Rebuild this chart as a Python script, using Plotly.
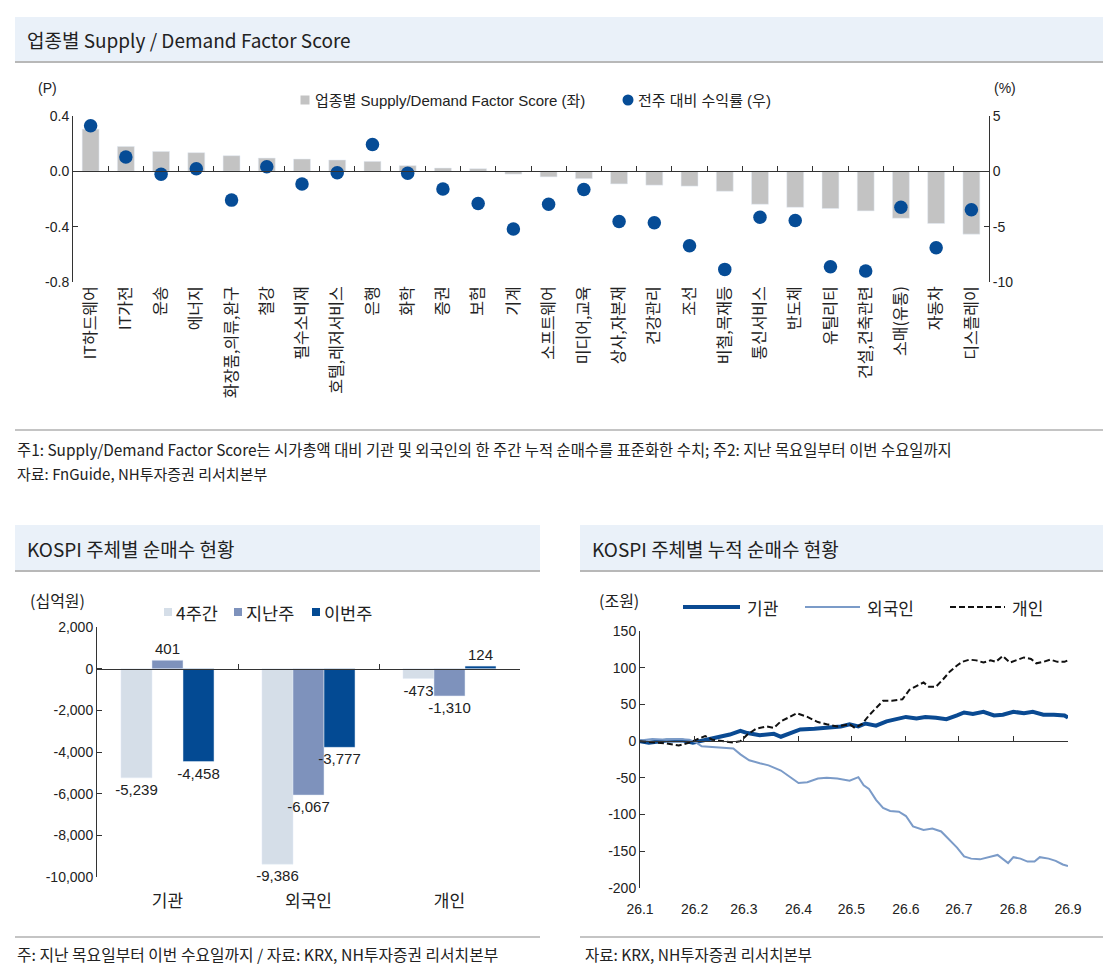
import plotly.graph_objects as go

# page body keeps an 8px margin, so the figure is the window minus 2x8px
PAGE_W, PAGE_H, PAD = 1118, 974, 8
W, H = PAGE_W - 2 * PAD, PAGE_H - 2 * PAD

# ---- top chart data: 업종별 Supply / Demand Factor Score
sectors = ['IT하드웨어', 'IT가전', '운송', '에너지', '화장품,의류,완구', '철강', '필수소비재',
           '호텔,레저서비스', '은행', '화학', '증권', '보험', '기계', '소프트웨어', '미디어,교육',
           '상사,자본재', '건강관리', '조선', '비철,목재등', '통신서비스', '반도체', '유틸리티',
           '건설,건축관련', '소매(유통)', '자동차', '디스플레이']
score = [0.305, 0.18, 0.144, 0.135, 0.113, 0.096, 0.089, 0.082, 0.072, 0.041, 0.024, 0.019, -0.02,
         -0.04, -0.053, -0.091, -0.10, -0.107, -0.144, -0.238, -0.26, -0.269, -0.286, -0.339, -0.377, -0.454]
weekly_ret = [4.12, 1.3, -0.27, 0.24, -2.6, 0.42, -1.14, -0.12, 2.43, -0.18, -1.59, -2.91, -5.22,
              -2.97, -1.65, -4.53, -4.65, -6.72, -8.86, -4.14, -4.44, -8.62, -9.0, -3.24, -6.9, -3.48]
score_ticks = [0.4, 0.0, -0.4, -0.8]
ret_ticks = [5, 0, -5, -10]

# ---- middle chart data: KOSPI 주체별 순매수 현황 (십억원)
investors = ['기관', '외국인', '개인']
net_4w = [-5239, -9386, -473]
net_last = [401, -6067, -1310]
net_this = [-4458, -3777, 124]
net_ticks = [2000, 0, -2000, -4000, -6000, -8000, -10000]

# ---- right chart data: KOSPI 주체별 누적 순매수 현황 (조원)
inst_dates = ['2026-01-01', '2026-01-06', '2026-01-16', '2026-01-25', '2026-01-31', '2026-02-04',
              '2026-02-10', '2026-02-15', '2026-02-21', '2026-02-27', '2026-03-03', '2026-03-10',
              '2026-03-18', '2026-03-22', '2026-03-27', '2026-04-02', '2026-04-10', '2026-04-17',
              '2026-04-25', '2026-04-30', '2026-05-05', '2026-05-09', '2026-05-15', '2026-05-21',
              '2026-05-26', '2026-06-01', '2026-06-07', '2026-06-12', '2026-06-18', '2026-06-24',
              '2026-06-30', '2026-07-04', '2026-07-09', '2026-07-15', '2026-07-21', '2026-07-26',
              '2026-08-01', '2026-08-07', '2026-08-12', '2026-08-18', '2026-08-24', '2026-08-30',
              '2026-09-01']
inst_cum = [0, -2, 1, 1, -2, 0, 3, 6, 9, 14, 11, 8, 10, 6, 11, 16, 17, 19, 20, 23, 20, 24, 21, 27,
            30, 33, 31, 33, 32, 30, 35, 39, 37, 40, 35, 36, 40, 38, 40, 36, 36, 35, 32]

frgn_dates = ['2026-01-01', '2026-01-08', '2026-01-16', '2026-01-23', '2026-01-29', '2026-02-02',
              '2026-02-05', '2026-02-11', '2026-02-17', '2026-02-23', '2026-02-27', '2026-03-04',
              '2026-03-10', '2026-03-15', '2026-03-22', '2026-03-27', '2026-04-01', '2026-04-06',
              '2026-04-12', '2026-04-17', '2026-04-23', '2026-04-30', '2026-05-05', '2026-05-08',
              '2026-05-11', '2026-05-15', '2026-05-19', '2026-05-23', '2026-05-28', '2026-06-01',
              '2026-06-05', '2026-06-11', '2026-06-16', '2026-06-21', '2026-06-26', '2026-06-30',
              '2026-07-04', '2026-07-08', '2026-07-13', '2026-07-17', '2026-07-23', '2026-07-29',
              '2026-08-01', '2026-08-05', '2026-08-09', '2026-08-13', '2026-08-16', '2026-08-21',
              '2026-08-25', '2026-08-29', '2026-09-01']
frgn_cum = [1, 3, 2, 3, 2, -2, -7, -8, -8, -10, -18, -26, -30, -33, -40, -49, -57, -56, -51, -50,
            -51, -54, -49, -60, -65, -80, -91, -95, -96, -102, -116, -121, -119, -123, -136, -145,
            -157, -160, -161, -159, -155, -166, -158, -160, -164, -164, -158, -160, -163, -168, -170]

indv_dates = ['2026-01-01', '2026-01-08', '2026-01-16', '2026-01-23', '2026-01-29', '2026-02-02',
              '2026-02-07', '2026-02-11', '2026-02-17', '2026-02-23', '2026-02-27', '2026-03-03',
              '2026-03-08', '2026-03-14', '2026-03-18', '2026-03-22', '2026-03-27', '2026-03-31',
              '2026-04-06', '2026-04-12', '2026-04-17', '2026-04-23', '2026-04-30', '2026-05-03',
              '2026-05-07', '2026-05-11', '2026-05-15', '2026-05-19', '2026-05-24', '2026-05-30',
              '2026-06-03', '2026-06-07', '2026-06-11', '2026-06-14', '2026-06-18', '2026-06-22',
              '2026-06-26', '2026-06-30', '2026-07-03', '2026-07-07', '2026-07-11', '2026-07-15',
              '2026-07-19', '2026-07-22', '2026-07-26', '2026-07-30', '2026-08-03', '2026-08-07',
              '2026-08-11', '2026-08-14', '2026-08-18', '2026-08-22', '2026-08-26', '2026-08-30',
              '2026-09-01']
indv_cum = [0, -1, -3, -6, -2, 2, 7, 2, 0, -2, 0, 9, 17, 20, 18, 27, 33, 38, 33, 26, 23, 20, 23, 18,
            23, 35, 45, 55, 55, 57, 70, 75, 80, 74, 74, 84, 95, 103, 108, 111, 110, 107, 110, 108,
            116, 107, 110, 114, 112, 106, 108, 111, 108, 108, 110]
month_ticks = ['2026-01-01', '2026-02-01', '2026-03-01', '2026-04-01', '2026-05-01', '2026-06-01',
               '2026-07-01', '2026-08-01', '2026-09-01']
month_labels = ['26.1', '26.2', '26.3', '26.4', '26.5', '26.6', '26.7', '26.8', '26.9']
cum_ticks = [150, 100, 50, 0, -50, -100, -150, -200]

# colours
C_SCORE, C_RET = '#c3c3c3', '#064c96'
C_4W, C_LAST, C_THIS = '#d5dee8', '#7e92bc', '#034a93'
C_INST, C_FRGN, C_INDV = '#0a4a92', '#7b9bc8', '#111111'
INDV_DASH = '6px,3px'


# page pixel -> paper fraction
def fx(px):
    return (px - PAD) / W


def fy(py):
    return 1 - (py - PAD) / H


def zero_pos(domain, rng):
    return domain[0] + (0 - rng[0]) / (rng[1] - rng[0]) * (domain[1] - domain[0])


FONT = 'Liberation Sans, Noto Sans CJK KR, sans-serif'
KFONT = 'Noto Sans CJK KR, sans-serif'
AX = '#333333'

fig = go.Figure()

# top chart
fig.add_trace(go.Bar(x=sectors, y=score, name='업종별 Supply/Demand Factor Score (좌)',
                     marker_color=C_SCORE, width=0.48, offset=-0.24, showlegend=False,
                     xaxis='x', yaxis='y'))
fig.add_trace(go.Scatter(x=sectors, y=weekly_ret, name='전주 대비 수익률 (우)', mode='markers',
                         marker=dict(color=C_RET, size=13.5), showlegend=False, xaxis='x', yaxis='y2'))
fig.add_trace(go.Scatter(x=sectors, y=score, mode='markers', marker_opacity=0, showlegend=False,
                         hoverinfo='skip', xaxis='x2', yaxis='y'))

# middle chart
for nm, vals, col in [('4주간', net_4w, C_4W), ('지난주', net_last, C_LAST), ('이번주', net_this, C_THIS)]:
    fig.add_trace(go.Bar(x=investors, y=vals, name=nm, marker_color=col,
                         text=[f'{v:,}' for v in vals], textposition='outside', cliponaxis=False,
                         constraintext='none', textfont=dict(size=15, color='#222'),
                         showlegend=False, xaxis='x3', yaxis='y3'))
fig.add_trace(go.Scatter(x=investors, y=net_4w, mode='markers', marker_opacity=0, showlegend=False,
                         hoverinfo='skip', xaxis='x4', yaxis='y3'))

# right chart
fig.add_trace(go.Scatter(x=inst_dates, y=inst_cum, name='기관', mode='lines', showlegend=False,
                         line=dict(color=C_INST, width=4), xaxis='x5', yaxis='y5'))
fig.add_trace(go.Scatter(x=frgn_dates, y=frgn_cum, name='외국인', mode='lines', showlegend=False,
                         line=dict(color=C_FRGN, width=2), xaxis='x5', yaxis='y5'))
fig.add_trace(go.Scatter(x=indv_dates, y=indv_cum, name='개인', mode='lines', showlegend=False,
                         line=dict(color=C_INDV, width=2, dash=INDV_DASH), xaxis='x5', yaxis='y5'))
fig.add_trace(go.Scatter(x=inst_dates, y=inst_cum, mode='markers', marker_opacity=0, showlegend=False,
                         hoverinfo='skip', xaxis='x6', yaxis='y5'))

yax = dict(showline=True, linecolor=AX, linewidth=1, ticks='inside', ticklen=5, tickcolor=AX,
           showgrid=False, zeroline=False, automargin=False, tickfont=dict(size=14, family=FONT))
zax = dict(showline=True, linecolor=AX, ticks='inside', ticklen=5, tickcolor=AX,
           showticklabels=False, showgrid=False, zeroline=False, automargin=False, anchor='free')

d_top_x = [fx(73), fx(989)]
d_top_y = [fy(282), fy(116)]
r_top = [-0.8, 0.4]
d_mid_x = [fx(97), fx(520)]
d_mid_y = [fy(877), fy(627)]
r_mid = [-10000, 2000]
d_rt_x = [fx(640), fx(1068)]
d_rt_y = [fy(888), fy(631)]
r_rt = [-200, 150]
n = len(sectors)

fig.update_layout(
    width=W, height=H, margin=dict(l=0, r=0, t=0, b=0, autoexpand=False),
    paper_bgcolor='white', plot_bgcolor='rgba(0,0,0,0)',
    font=dict(family=FONT, size=14, color='#222'),
    barmode='group', bargap=0.34, bargroupgap=0, showlegend=False,
    xaxis=dict(domain=d_top_x, anchor='y', type='category', range=[-0.5, n - 0.5],
               tickangle=-90, showline=False, ticks='', showgrid=False, automargin=False,
               tickfont=dict(size=16, family=KFONT)),
    xaxis2=dict(overlaying='x', position=zero_pos(d_top_y, r_top), type='category',
                range=[-0.5, n - 0.5], tickson='boundaries', **zax),
    yaxis=dict(domain=d_top_y, anchor='x', range=r_top, tickvals=score_ticks,
               ticktext=[f'{v:.1f}' for v in score_ticks], **yax),
    yaxis2=dict(overlaying='y', side='right', anchor='x', range=[-10, 5], tickvals=ret_ticks,
                ticktext=[str(v) for v in ret_ticks], **yax),
    xaxis3=dict(domain=d_mid_x, anchor='y3', type='category', range=[-0.5, 2.5], showline=False,
                ticks='outside', ticklen=9, tickcolor='rgba(0,0,0,0)', showgrid=False,
                automargin=False, tickfont=dict(size=17, family=KFONT)),
    xaxis4=dict(overlaying='x3', position=zero_pos(d_mid_y, r_mid), type='category',
                range=[-0.5, 2.5], tickson='boundaries', **zax),
    yaxis3=dict(domain=d_mid_y, anchor='x3', range=r_mid, tickvals=net_ticks,
                ticktext=[f'{v:,}' for v in net_ticks], **yax),
    xaxis5=dict(domain=d_rt_x, anchor='y5', type='date', range=[month_ticks[0], month_ticks[-1]],
                tickmode='array', tickvals=month_ticks, ticktext=month_labels, showline=False,
                ticks='outside', ticklen=8, tickcolor='rgba(0,0,0,0)', showgrid=False,
                automargin=False, tickfont=dict(size=14, family=FONT)),
    xaxis6=dict(overlaying='x5', position=zero_pos(d_rt_y, r_rt), type='date',
                range=[month_ticks[0], month_ticks[-1]], tickmode='array', tickvals=month_ticks, **zax),
    yaxis5=dict(domain=d_rt_y, anchor='x5', range=r_rt, tickvals=cum_ticks,
                ticktext=[str(v) for v in cum_ticks], **yax),
)

shapes = []
# header bars and separators
for x0, x1, y0, y1 in [(15, 1103, 17, 62), (15, 540, 525, 571), (580, 1103, 525, 571)]:
    shapes.append(dict(type='rect', xref='paper', yref='paper', x0=fx(x0), x1=fx(x1),
                       y0=fy(y1), y1=fy(y0), fillcolor='#eaf1f9', line_width=0, layer='below'))
    shapes.append(dict(type='line', xref='paper', yref='paper', x0=fx(x0), x1=fx(x1),
                       y0=fy(y1), y1=fy(y1), line=dict(color='#b8b8b8', width=2)))
for x0, x1, yy in [(15, 1103, 430), (15, 540, 937), (580, 1103, 937)]:
    shapes.append(dict(type='line', xref='paper', yref='paper', x0=fx(x0), x1=fx(x1),
                       y0=fy(yy), y1=fy(yy), line=dict(color='#c4c4c4', width=2)))


def key_box(cx, cy, size, color, kind='rect'):
    h = size / 2
    shapes.append(dict(type=kind, xref='paper', yref='paper', x0=fx(cx - h), x1=fx(cx + h),
                       y0=fy(cy + h), y1=fy(cy - h), fillcolor=color, line_width=0))


def key_line(x0, x1, cy, color, width, dash='solid'):
    shapes.append(dict(type='line', xref='paper', yref='paper', x0=fx(x0), x1=fx(x1),
                       y0=fy(cy), y1=fy(cy), line=dict(color=color, width=width, dash=dash)))


def note(txt, px, py, size=13, fam=KFONT, anchor='left'):
    fig.add_annotation(text=txt, x=fx(px), y=fy(py), xref='paper', yref='paper', showarrow=False,
                       xanchor=anchor, yanchor='middle', font=dict(size=size, family=fam, color='#222'))


# legend keys
key_box(305, 100, 9, C_SCORE)
key_box(628, 100, 11, C_RET, kind='circle')
key_box(168, 612, 8, C_4W)
key_box(238, 612, 8, C_LAST)
key_box(316, 612, 8, C_THIS)
key_line(683, 740, 607, C_INST, 4)
key_line(805, 860, 607, C_FRGN, 2)
key_line(950, 1005, 607, C_INDV, 2, INDV_DASH)
fig.update_layout(shapes=shapes)

note('업종별 Supply/Demand Factor Score (좌)', 313, 100, size=15, fam=FONT)
note('전주 대비 수익률 (우)', 636, 100, size=15, fam=FONT)
note('4주간', 174, 612, size=17.5)
note('지난주', 244, 612, size=17.5)
note('이번주', 322, 612, size=17.5)
note('기관', 745, 607, size=17)
note('외국인', 865, 607, size=17)
note('개인', 1010, 607, size=17)

# titles, units, footnotes
note('업종별 Supply / Demand Factor Score', 25, 40, size=19)
note('KOSPI 주체별 순매수 현황', 25, 548, size=19)
note('KOSPI 주체별 누적 순매수 현황', 590, 548, size=19)
note('(P)', 47, 88, size=14, fam=FONT, anchor='center')
note('(%)', 1005, 88, size=14, fam=FONT, anchor='center')
note('(십억원)', 57, 600, size=16, anchor='center')
note('(조원)', 619, 600, size=16, anchor='center')
note('주1: Supply/Demand Factor Score는 시가총액 대비 기관 및 외국인의 한 주간 누적 순매수를 표준화한 수치; '
     '주2: 지난 목요일부터 이번 수요일까지', 15, 449, size=15.4)
note('자료: FnGuide, NH투자증권 리서치본부', 15, 473, size=15)
note('주: 지난 목요일부터 이번 수요일까지 / 자료: KRX, NH투자증권 리서치본부', 15, 954, size=15.8)
note('자료: KRX, NH투자증권 리서치본부', 583, 954, size=15.5)

fig.write_html('out.html')
